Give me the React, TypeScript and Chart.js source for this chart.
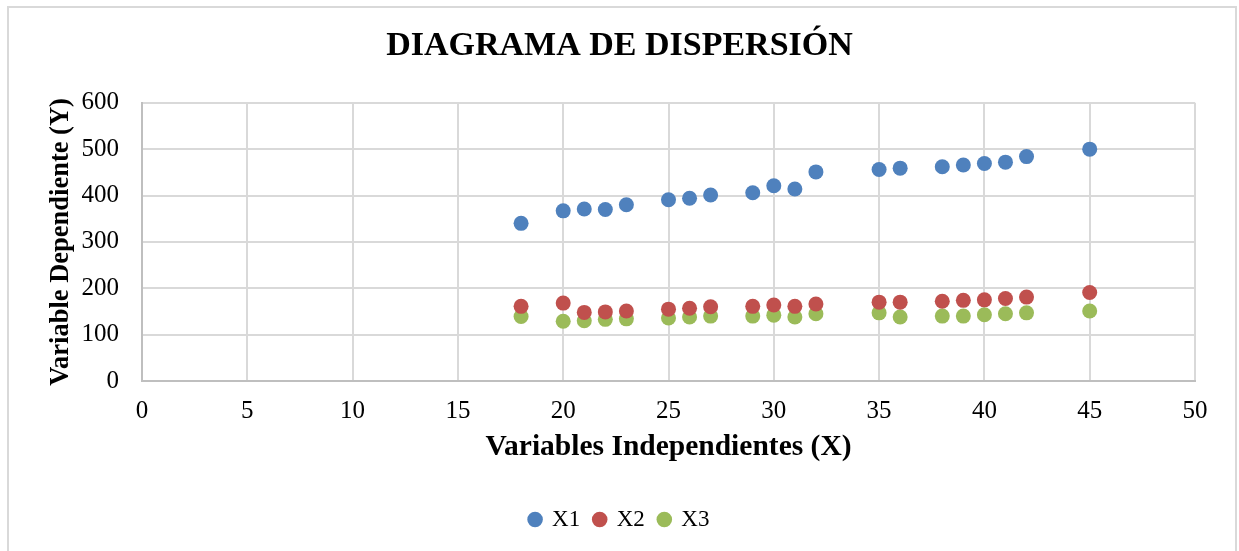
import React, { useEffect, useRef } from "react";
import { Chart, registerables } from "chart.js";

Chart.register(...registerables);

const xValues = [18, 20, 21, 22, 23, 25, 26, 27, 29, 30, 31, 32, 35, 36, 38, 39, 40, 41, 42, 45];
const x1Values = [340, 367, 371, 370, 380, 391, 394, 401, 406, 421, 414, 451, 456, 459, 462, 466, 469, 472, 484, 500];
const x2Values = [161, 168, 148, 149, 151, 155, 157, 160, 161, 164, 161, 166, 170, 170, 172, 174, 175, 178, 181, 191];
const x3Values = [139, 129, 130, 133, 134, 136, 138, 140, 140, 142, 138, 145, 147, 138, 140, 140, 143, 145, 147, 151];
const seriesNames = ["X1", "X2", "X3"];
const seriesColors = ["#4F81BD", "#C0504D", "#9BBB59"];
const chartTitle = "DIAGRAMA DE DISPERSIÓN";
const xTitle = "Variables Independientes (X)";
const yTitle = "Variable Dependiente (Y)";

const FONT = "'Liberation Serif', 'Times New Roman', serif";

export default function App() {
  const canvasRef = useRef<HTMLCanvasElement | null>(null);

  useEffect(() => {
    document.body.style.margin = "0";
    const canvas = canvasRef.current;
    if (!canvas) return;
    const allY = [x1Values, x2Values, x3Values];
    const chart = new Chart(canvas, {
      type: "scatter",
      data: {
        datasets: allY.map((vals, i) => ({
          label: seriesNames[i],
          data: xValues.map((x, j) => ({ x, y: vals[j] })),
          backgroundColor: seriesColors[i],
          borderColor: seriesColors[i],
          borderWidth: 0,
          pointRadius: 7.5,
          pointHoverRadius: 7.5,
        })),
      },
      options: {
        responsive: false,
        animation: false,
        layout: { padding: { left: 0, right: 0, top: 0, bottom: 10 } },
        plugins: {
          title: {
            display: true,
            text: chartTitle,
            color: "#000",
            font: { family: FONT, size: 34, weight: "bold" },
            padding: { top: 26, bottom: 36 },
          },
          legend: {
            display: true,
            position: "bottom",
            labels: {
              color: "#000",
              font: { family: FONT, size: 23 },
              usePointStyle: true,
              pointStyle: "circle",
              boxWidth: 11,
              boxHeight: 11,
              padding: 14,
            },
          },
          tooltip: { enabled: false },
        },
        scales: {
          x: {
            type: "linear",
            min: 0,
            max: 50,
            ticks: {
              stepSize: 5,
              color: "#000",
              font: { family: FONT, size: 25 },
              padding: 15,
            },
            grid: { color: "#d9d9d9", lineWidth: 2, drawTicks: false },
            border: { color: "#bfbfbf", width: 2 },
            title: {
              display: true,
              text: xTitle,
              color: "#000",
              font: { family: FONT, size: 29.5, weight: "bold" },
              padding: { top: 0, bottom: 29 },
            },
            afterFit: (scale: any) => {
              scale.height = 113;
            },
          },
          y: {
            type: "linear",
            min: 0,
            max: 600,
            ticks: {
              stepSize: 100,
              color: "#000",
              font: { family: FONT, size: 25 },
              padding: 23,
            },
            grid: { color: "#d9d9d9", lineWidth: 2, drawTicks: false },
            border: { color: "#bfbfbf", width: 2 },
            title: {
              display: true,
              text: yTitle,
              color: "#000",
              font: { family: FONT, size: 26.5, weight: "bold" },
              padding: { top: 45, bottom: 0 },
            },
            afterFit: (scale: any) => {
              scale.width = 142;
            },
          },
          spacer: {
            type: "linear",
            position: "right",
            display: true,
            ticks: { display: false },
            grid: { display: false, drawOnChartArea: false, drawTicks: false },
            border: { display: false },
            title: { display: false },
            afterFit: (scale: any) => {
              scale.width = 44;
            },
          },
        },
      },
    });
    return () => chart.destroy();
  }, []);

  return (
    <div style={{ position: "relative", width: 1239, height: 551, overflow: "hidden", background: "#fff" }}>
      <div
        style={{
          position: "absolute",
          left: 7,
          top: 6,
          width: 1226,
          height: 600,
          border: "2px solid #d9d9d9",
          boxSizing: "content-box",
        }}
      />
      <canvas
        ref={canvasRef}
        width={1239}
        height={551}
        style={{ position: "absolute", left: 0, top: 0, width: 1239, height: 551 }}
      />
    </div>
  );
}
